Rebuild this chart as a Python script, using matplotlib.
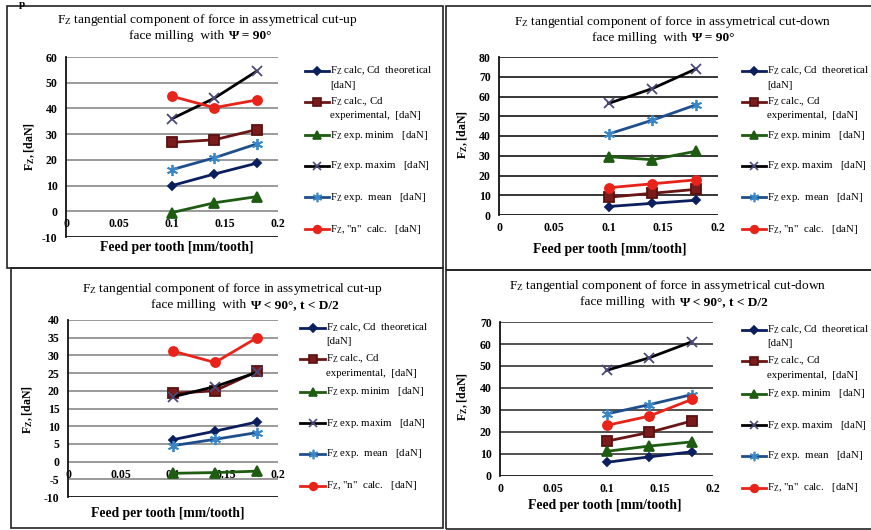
import matplotlib
matplotlib.use("Agg")
import matplotlib.pyplot as plt
from matplotlib.lines import Line2D
from matplotlib.patches import Rectangle

plt.rcParams['font.family'] = ['Liberation Serif', 'DejaVu Serif']
plt.rcParams['mathtext.fontset'] = 'custom'
plt.rcParams['mathtext.rm'] = 'Liberation Serif'
plt.rcParams['mathtext.it'] = 'Liberation Serif:italic'
plt.rcParams['mathtext.bf'] = 'Liberation Serif:bold'
plt.rcParams['mathtext.default'] = 'regular'
plt.rcParams['axes.unicode_minus'] = False

# data: feed per tooth [mm/tooth]
feed = [0.10, 0.14, 0.18]

# cut-up, psi = 90
up90_theor = [10.0, 14.5, 18.7]
up90_exper = [26.8, 27.8, 31.8]
up90_min = [-0.5, 3.3, 5.7]
up90_max = [36.0, 44.0, 54.5]
up90_mean = [16.2, 20.8, 26.2]
up90_n = [44.7, 40.3, 43.3]

# cut-down, psi = 90
down90_theor = [4.3, 5.9, 7.5]
down90_exper = [9.0, 11.0, 13.0]
down90_min = [29.5, 28.0, 32.3]
down90_max = [56.5, 64.0, 74.0]
down90_mean = [41.0, 48.0, 55.8]
down90_n = [13.8, 15.8, 17.8]

# cut-up, psi < 90
up_lt_theor = [6.2, 8.6, 11.2]
up_lt_exper = [19.3, 20.0, 25.5]
up_lt_min = [-3.3, -3.1, -2.7]
up_lt_max = [18.3, 21.2, 25.2]
up_lt_mean = [4.5, 6.3, 8.2]
up_lt_n = [31.2, 28.0, 35.0]

# cut-down, psi < 90
down_lt_theor = [6.2, 8.7, 11.0]
down_lt_exper = [15.8, 19.8, 25.0]
down_lt_min = [11.2, 13.6, 15.5]
down_lt_max = [48.0, 53.7, 61.0]
down_lt_mean = [28.2, 32.4, 37.0]
down_lt_n = [23.0, 27.2, 34.8]

series_labels = [
    'F$_Z$ calc, Cd  theoretical\n[daN]',
    'F$_Z$ calc., Cd\nexperimental,  [daN]',
    'F$_Z$ exp. minim   [daN]',
    'F$_Z$ exp. maxim   [daN]',
    'F$_Z$ exp.  mean   [daN]',
    'F$_Z$, "n"  calc.   [daN]',
]
xticks = [0, 0.05, 0.1, 0.15, 0.2]
xticklabels = ['0', '0.05', '0.1', '0.15', '0.2']

# series styles (line colour, marker, marker size, marker colour)
styles = [
    dict(color='#0B1F5E', marker='D', ms=4.5, mfc='#0B1F5E', mec='#0B1F5E'),
    dict(color='#6B1616', marker='s', ms=6.5, mfc='#7A1C1C', mec='#5A1010'),
    dict(color='#1E5C12', marker='^', ms=6.5, mfc='#1E5C12', mec='#1E5C12'),
    dict(color='#000000', marker='x', ms=7, mfc='none', mec='#4A4A7A'),
    dict(color='#1F4E8C', marker=(6, 2, 0), ms=8, mfc='none', mec='#3A87C8'),
    dict(color='#E8231A', marker='o', ms=6.5, mfc='#E8231A', mec='#E8231A'),
]

W, H = 871, 530
fig = plt.figure(figsize=(W / 100, H / 100), dpi=100)


def fx(x):
    return x / W


def fy(y):
    return 1 - y / H


# panel frames
for (x0, y0, x1, y1) in [(7, 6, 443, 268), (446, 6, 872, 270),
                         (11, 268, 443, 528), (446, 270, 872, 529)]:
    fig.add_artist(Rectangle((fx(x0), fy(y1)), fx(x1 - x0), (y1 - y0) / H,
                             transform=fig.transFigure, fill=False,
                             ec='#222222', lw=1.2))

fig.text(fx(19), fy(0), 'p', fontsize=8, fontweight='bold', va='top')

panels = [
    dict(box=(66, 57, 278, 237), ylim=(-10, 60), step=10, grid='#7F7F7F',
         data=[up90_theor, up90_exper, up90_min, up90_max, up90_mean, up90_n],
         t1=('F$_Z$ tangential component of force in assymetrical cut-up', 207, 20),
         t2=('Ψ = 90°', 226, 36),
         xl=(177, 248), yl=(30, 147), leg=(305, 329, 71)),
    dict(box=(499, 57, 718, 215), ylim=(0, 80), step=10, grid='#000000',
         data=[down90_theor, down90_exper, down90_min, down90_max, down90_mean, down90_n],
         t1=('F$_Z$ tangential component of force in assymetrical cut-down', 673, 22),
         t2=('Ψ = 90°', 689, 38),
         xl=(610, 250), yl=(463, 135), leg=(742, 766, 71)),
    dict(box=(68, 320, 278, 497), ylim=(-10, 40), step=5, grid='#7F7F7F',
         data=[up_lt_theor, up_lt_exper, up_lt_min, up_lt_max, up_lt_mean, up_lt_n],
         t1=('F$_Z$ tangential component of force in assymetrical cut-up', 232, 289),
         t2=('Ψ < 90°, t < D/2', 248, 305),
         xl=(168, 513), yl=(28, 410), leg=(300, 325, 328)),
    dict(box=(500, 322, 713, 476), ylim=(0, 70), step=10, grid='#222222',
         data=[down_lt_theor, down_lt_exper, down_lt_min, down_lt_max, down_lt_mean, down_lt_n],
         t1=('F$_Z$ tangential component of force in assymetrical cut-down', 668, 286),
         t2=('Ψ < 90°, t < D/2', 677, 302),
         xl=(605, 506), yl=(463, 397), leg=(742, 766, 330)),
]

leg_offsets = [0, 31, 64, 95, 126, 158]

for p in panels:
    l, t, r, b = p['box']
    ax = fig.add_axes([fx(l), fy(b), (r - l) / W, (b - t) / H])
    ymin, ymax = p['ylim']
    ax.set_xlim(0, 0.2)
    ax.set_ylim(ymin, ymax)
    yt = list(range(ymin, ymax + 1, p['step']))
    ax.set_yticks(yt)
    ax.set_xticks(xticks)
    ax.set_xticklabels(xticklabels)
    for y in yt:
        if y != ymin:
            ax.axhline(y, color=p['grid'], lw=1.1, zorder=1)
    ax.axhline(ymin, color='#111111', lw=1.3, zorder=1)
    for side in ['top', 'right']:
        ax.spines[side].set_visible(False)
    ax.spines['left'].set_color('#111111')
    ax.spines['left'].set_linewidth(1.3)
    ax.spines['bottom'].set_position(('data', 0))
    ax.spines['bottom'].set_visible(False)
    ax.tick_params(length=0, labelsize=8.5)
    ax.tick_params(axis='x', pad=5)
    ax.tick_params(axis='y', pad=6)
    for lab in ax.get_xticklabels() + ax.get_yticklabels():
        lab.set_fontweight('bold')

    for vals, st in zip(p['data'], styles):
        ax.plot(feed, vals, color=st['color'], lw=2.0, marker=st['marker'],
                ms=st['ms'], mfc=st['mfc'], mec=st['mec'], mew=1.3,
                zorder=3, clip_on=False)

    # titles and axis labels
    txt, cx, cy = p['t1']
    fig.text(fx(cx), fy(cy), txt, ha='center', va='center', fontsize=9.6)
    txt, sx, cy = p['t2']
    fig.text(fx(sx - 2), fy(cy), 'face milling  with', ha='right', va='center',
             fontsize=9.6)
    fig.text(fx(sx + 2), fy(cy), txt, ha='left', va='center', fontsize=9.6,
             fontweight='bold')
    fig.text(fx(p['xl'][0]), fy(p['xl'][1]), 'Feed per tooth [mm/tooth]',
             ha='center', va='center', fontsize=9.8, fontweight='bold')
    fig.text(fx(p['yl'][0]), fy(p['yl'][1]), 'F$_Z$, [daN]', rotation=90,
             ha='center', va='center', fontsize=8.5, fontweight='bold')

    # legend
    x0, x1, ytop = p['leg']
    for off, label, st in zip(leg_offsets, series_labels, styles):
        yy = fy(ytop + off)
        fig.add_artist(Line2D([fx(x0), fx((x0 + x1) / 2), fx(x1)], [yy, yy, yy],
                              transform=fig.transFigure, color=st['color'], lw=2.0,
                              marker=st['marker'], ms=st['ms'] * 0.85, mfc=st['mfc'],
                              mec=st['mec'], mew=1.2, markevery=[1]))
        for k, line in enumerate(label.split('\n')):
            fig.text(fx(x1 + 1), fy(ytop + off + 14 * k), line, ha='left',
                     va='center', fontsize=7.8)

fig.savefig('out.png', dpi=100)
